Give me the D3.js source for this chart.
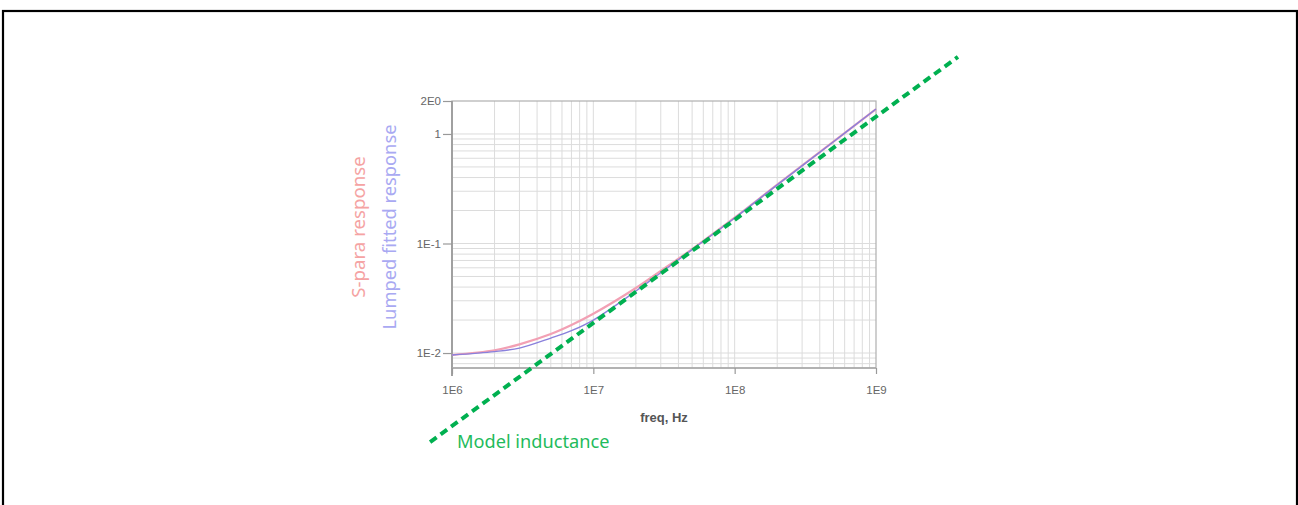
<!DOCTYPE html>
<html>
<head>
<meta charset="utf-8">
<script src="https://cdn.jsdelivr.net/npm/d3@7"></script>
<style>
  html, body { margin: 0; padding: 0; background: #fff; }
  svg { display: block; }
  text { font-family: "Liberation Sans", Arial, sans-serif; }
</style>
</head>
<body>
<div id="chart"></div>
<script>
// values
const freqs = [1e6, 2e6, 3e6, 5e6, 7e6, 1e7, 2e7, 3e7, 5e7, 1e8, 2e8, 5e8, 1e9];
const sparaResp = [0.0096, 0.0106, 0.0120, 0.0149, 0.0180, 0.0228, 0.0392, 0.0562, 0.089, 0.172, 0.344, 0.85, 1.69];
const lumpedResp = [0.0096, 0.0103, 0.0111, 0.0137, 0.0160, 0.0200, 0.0368, 0.0540, 0.088, 0.171, 0.343, 0.85, 1.69];
const modelLine = [[7.0e5, 1.54e-3], [3.8e9, 5.05]];
const xTicks = [1e6, 1e7, 1e8, 1e9];
const xTickLabels = ["1E6", "1E7", "1E8", "1E9"];
const yTicks = [2, 1, 0.1, 0.01];
const yTickLabels = ["2E0", "1", "1E-1", "1E-2"];

const W = 1298, H = 505;
const svg = d3.select("#chart").append("svg").attr("width", W).attr("height", H);

// outer frame (bottom edge falls outside the picture)
svg.append("rect")
  .attr("x", 3).attr("y", 11).attr("width", 1294).attr("height", 520)
  .attr("fill", "none").attr("stroke", "#000").attr("stroke-width", 2.2);

const x = d3.scaleLog().domain([1e6, 1e9]).range([452, 876]);
const y = d3.scaleLog().domain([0.0073, 2]).range([368, 101]);

// minor + major grid
const xGrid = [];
for (let e = 6; e < 9; e++) for (let m = 1; m < 10; m++) xGrid.push(m * 10 ** e);
const yGrid = [0.008, 0.009];
for (let e = -2; e < 0; e++) for (let m = 1; m < 10; m++) yGrid.push(m * 10 ** e);
yGrid.push(1);

const g = svg.append("g");
g.selectAll(".gx").data(xGrid).join("line")
  .attr("x1", d => x(d)).attr("x2", d => x(d))
  .attr("y1", y.range()[1]).attr("y2", y.range()[0])
  .attr("stroke", "#dcdcdc").attr("stroke-width", 1);
g.selectAll(".gy").data(yGrid).join("line")
  .attr("x1", x.range()[0]).attr("x2", x.range()[1])
  .attr("y1", d => y(d)).attr("y2", d => y(d))
  .attr("stroke", "#dcdcdc").attr("stroke-width", 1);

// plot frame
g.append("rect")
  .attr("x", x.range()[0]).attr("y", y.range()[1])
  .attr("width", x.range()[1] - x.range()[0]).attr("height", y.range()[0] - y.range()[1])
  .attr("fill", "none").attr("stroke", "#b0b0b0").attr("stroke-width", 1.2);
g.append("line")
  .attr("x1", x.range()[0]).attr("x2", x.range()[0])
  .attr("y1", y.range()[1]).attr("y2", y.range()[0] + 8)
  .attr("stroke", "#a0a0a0").attr("stroke-width", 2);
g.append("line")
  .attr("x1", x.range()[0]).attr("x2", x.range()[1])
  .attr("y1", y.range()[0]).attr("y2", y.range()[0])
  .attr("stroke", "#a8a8a8").attr("stroke-width", 1.5);

// axes
const xAxis = d3.axisBottom(x).tickValues(xTicks)
  .tickFormat((d, i) => xTickLabels[i]).tickSize(6).tickPadding(12);
const yAxis = d3.axisLeft(y).tickValues(yTicks)
  .tickFormat((d, i) => yTickLabels[i]).tickSize(9).tickPadding(2);

const gx = svg.append("g").attr("transform", `translate(0,${y.range()[0]})`).call(xAxis);
const gy = svg.append("g").attr("transform", `translate(${x.range()[0]},0)`).call(yAxis);
[gx, gy].forEach(a => {
  a.select(".domain").remove();
  a.selectAll(".tick line").attr("stroke", "#999").attr("stroke-width", 1.2);
  a.selectAll(".tick text").attr("fill", "#666").style("font-size", "11.5px")
    .style("font-family", "'Liberation Sans', Arial, sans-serif");
});

svg.append("text")
  .attr("x", 664).attr("y", 422).attr("text-anchor", "middle")
  .attr("fill", "#555").style("font-size", "13px").style("font-weight", "bold")
  .text("freq, Hz");

// curves
const line = d3.line().x(d => x(d[0])).y(d => y(d[1])).curve(d3.curveCatmullRom.alpha(0.5));
svg.append("path")
  .datum(freqs.map((f, i) => [f, sparaResp[i]]))
  .attr("d", line).attr("fill", "none")
  .attr("stroke", "#f2a0b4").attr("stroke-width", 2.2);
svg.append("path")
  .datum(freqs.map((f, i) => [f, lumpedResp[i]]))
  .attr("d", line).attr("fill", "none")
  .attr("stroke", "#8a80dc").attr("stroke-width", 1.4);

// rotated legend labels
svg.append("text")
  .attr("transform", "translate(365,227) rotate(-90)")
  .attr("text-anchor", "middle").attr("fill", "#f5a3a3")
  .style("font-size", "18.7px").style("font-family", "'Noto Sans', sans-serif")
  .text("S-para response");
svg.append("text")
  .attr("transform", "translate(396,227) rotate(-90)")
  .attr("text-anchor", "middle").attr("fill", "#a9a9f2")
  .style("font-size", "18.3px").style("font-family", "'Noto Sans', sans-serif")
  .text("Lumped fitted response");

// model inductance overlay
svg.append("path")
  .datum(modelLine)
  .attr("d", d3.line().x(d => x(d[0])).y(d => y(d[1])))
  .attr("fill", "none").attr("stroke", "#00b050")
  .attr("stroke-width", 4).attr("stroke-dasharray", "8,5");
svg.append("text")
  .attr("x", 457).attr("y", 448).attr("fill", "#1fbb5c")
  .style("font-size", "18.2px").style("font-family", "'Noto Sans', sans-serif")
  .text("Model inductance");
</script>
</body>
</html>
